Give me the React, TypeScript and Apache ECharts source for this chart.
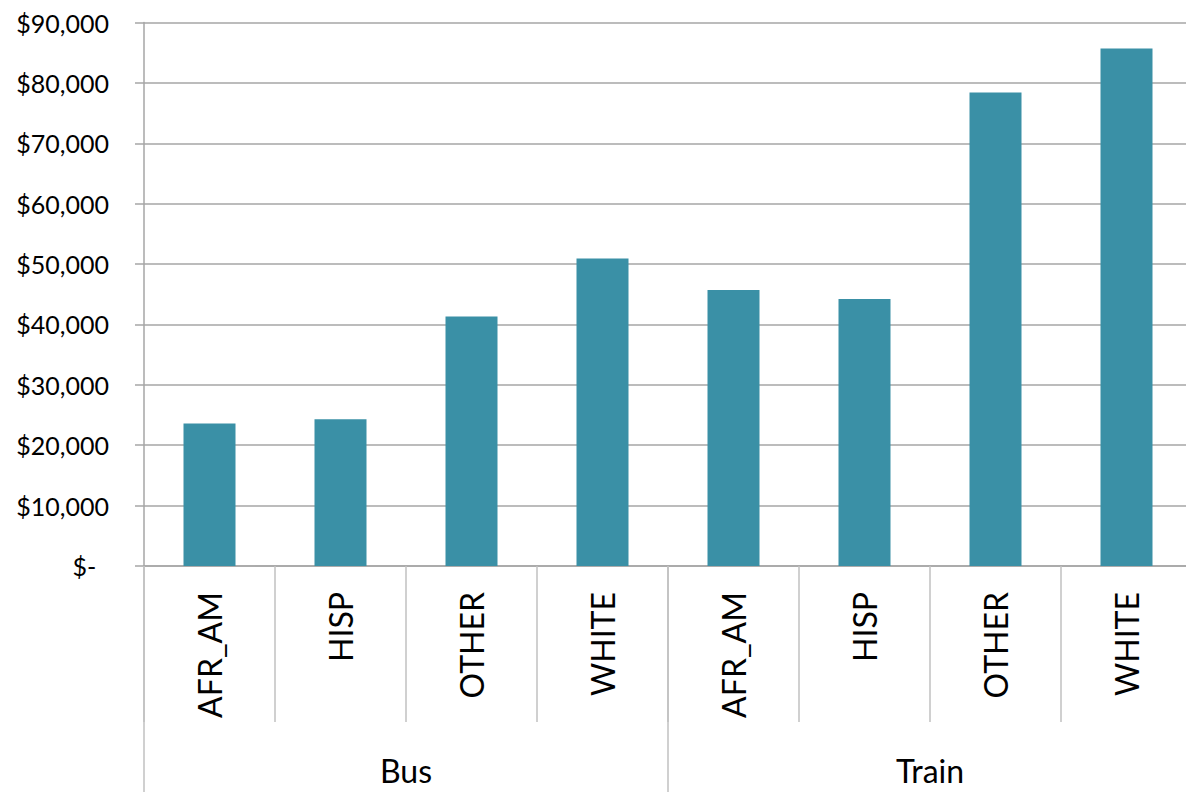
import React, { useEffect, useRef } from "react";
import * as echarts from "echarts";

const groups = ["Bus", "Train"];
const races = ["AFR_AM", "HISP", "OTHER", "WHITE"];
const busValues = [23600, 24300, 41300, 50900];
const trainValues = [45700, 44200, 78400, 85700];
const yTicks = { min: 0, max: 90000, interval: 10000 };

const BAR_COLOR = "#3A90A6";
const GRID_COLOR = "#a6a6a6";
const TICK_COLOR = "#c0c0c0";
const FONT = "Lato";

export default function App() {
  const ref = useRef<HTMLDivElement>(null);
  useEffect(() => {
    if (!ref.current) return;
    const chart = echarts.init(ref.current, null, { renderer: "svg" });
    const xData = groups.flatMap((g) => races.map((r) => `${g}|${r}`));
    const values = [...busValues, ...trainValues];
    chart.setOption({
      animation: false,
      backgroundColor: "#ffffff",
      grid: { left: 144, right: 0, top: 22.5, bottom: 226, containLabel: false },
      xAxis: [
        {
          type: "category",
          data: xData,
          position: "bottom",
          axisLine: { show: true, lineStyle: { color: GRID_COLOR, width: 1.5 } },
          axisTick: { show: true, interval: 0, length: 156, lineStyle: { color: TICK_COLOR, width: 1.5 } },
          axisLabel: {
            interval: 0,
            rotate: 90,
            margin: 26,
            color: "#000",
            fontFamily: FONT,
            fontSize: 32,
            formatter: (v: string) => v.split("|")[1],
          },
          splitLine: { show: false },
        },
        {
          type: "category",
          data: groups,
          position: "bottom",
          axisLine: { show: false },
          axisTick: { show: true, interval: 0, length: 226, lineStyle: { color: TICK_COLOR, width: 1.5 } },
          axisLabel: {
            interval: 0,
            margin: 188,
            color: "#000",
            fontFamily: FONT,
            fontSize: 32,
          },
          splitLine: { show: false },
        },
      ],
      yAxis: {
        type: "value",
        min: yTicks.min,
        max: yTicks.max,
        interval: yTicks.interval,
        axisLine: { show: true, lineStyle: { color: GRID_COLOR, width: 1.5 } },
        axisTick: { show: true, length: 9, lineStyle: { color: GRID_COLOR, width: 1.5 } },
        axisLabel: {
          margin: 35,
          color: "#000",
          fontFamily: FONT,
          fontSize: 25,
          formatter: (v: number) =>
            v === 0 ? "$-\u00a0\u00a0" : "$" + v.toLocaleString("en-US"),
        },
        splitLine: { show: true, lineStyle: { color: GRID_COLOR, width: 1.5 } },
      },
      series: [
        {
          type: "bar",
          xAxisIndex: 0,
          data: values,
          barWidth: 52,
          itemStyle: { color: BAR_COLOR },
        },
      ],
    });
    return () => chart.dispose();
  }, []);
  return (
    <div
      style={{
        position: "absolute",
        left: 0,
        top: 0,
        width: 1186,
        height: 792,
        overflow: "hidden",
      }}
    >
      <div ref={ref} style={{ width: 1192, height: 792 }} />
    </div>
  );
}
